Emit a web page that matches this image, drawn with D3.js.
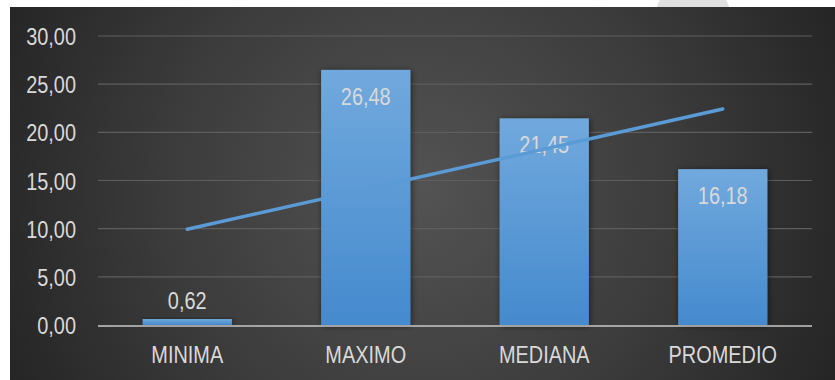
<!DOCTYPE html>
<html>
<head>
<meta charset="utf-8">
<script src="https://cdn.jsdelivr.net/npm/d3@7"></script>
<style>
  html, body { margin: 0; padding: 0; background: #ffffff; }
  svg { display: block; }
  text { font-family: "Liberation Sans Narrow", "Arial Narrow", "Liberation Sans", Arial, sans-serif; }
</style>
</head>
<body>
<svg id="chart" width="835" height="380"></svg>
<script>
// ---- data ----
const categories = ["MINIMA", "MAXIMO", "MEDIANA", "PROMEDIO"];
const values = [0.62, 26.48, 21.45, 16.18];
const yTicks = [0, 5, 10, 15, 20, 25, 30];
// linear trendline end points
const trendCategories = ["MINIMA", "PROMEDIO"];
const trendValues = [9.94, 22.43];

// ---- setup ----
const svg = d3.select("#chart");
const W = 835, H = 380;
const NARROW = 0.83;
const locale = d3.formatLocale({ decimal: ",", thousands: ".", grouping: [3], currency: ["", ""] });
const fmt = locale.format(".2f");

const defs = svg.append("defs");
const bg = defs.append("radialGradient").attr("id", "bg")
  .attr("gradientUnits", "userSpaceOnUse")
  .attr("cx", 420).attr("cy", 190).attr("r", 470);
bg.append("stop").attr("offset", "0").attr("stop-color", "#535353");
bg.append("stop").attr("offset", "0.55").attr("stop-color", "#3b3b3b");
bg.append("stop").attr("offset", "1").attr("stop-color", "#232323");

const barGrad = defs.append("linearGradient").attr("id", "barGrad")
  .attr("x1", 0).attr("y1", 0).attr("x2", 0).attr("y2", 1);
barGrad.append("stop").attr("offset", "0").attr("stop-color", "#71a9dd");
barGrad.append("stop").attr("offset", "1").attr("stop-color", "#458ace");

const shadow = defs.append("filter").attr("id", "shadow")
  .attr("x", "-20%").attr("y", "-20%").attr("width", "140%").attr("height", "140%");
shadow.append("feDropShadow").attr("dx", 1).attr("dy", 1).attr("stdDeviation", 3)
  .attr("flood-color", "#000").attr("flood-opacity", 0.55);

// decorative grey circle behind the chart panel
svg.append("circle").attr("cx", 693).attr("cy", 18.5).attr("r", 38).attr("fill", "#e0e0e0");

// chart panel
svg.append("rect").attr("x", 10).attr("y", 7).attr("width", W - 10).attr("height", H - 7)
  .attr("fill", "url(#bg)");

// ---- scales ----
const x = d3.scaleBand().domain(categories).range([98, 812]).paddingInner(0.5).paddingOuter(0.25);
const y = d3.scaleLinear().domain([0, 30]).range([325, 36]);

// gridlines
svg.append("g").selectAll("line").data(yTicks.filter(d => d > 0)).join("line")
  .attr("x1", 98).attr("x2", 812)
  .attr("y1", d => y(d)).attr("y2", d => y(d))
  .attr("stroke", "#5e5e5e").attr("stroke-width", 1.2);

// y axis labels
const yAxis = d3.axisLeft(y).tickValues(yTicks).tickFormat(fmt).tickSize(0).tickPadding(0);
const gy = svg.append("g").attr("transform", "translate(76,0)").call(yAxis);
gy.select(".domain").remove();
gy.selectAll("text").attr("fill", "#d9d9d9").attr("font-size", 24)
  .attr("x", 0).attr("dy", "0.36em")
  .attr("transform", `scale(${NARROW},1)`)
  .style("font-family", "'Liberation Sans Narrow','Arial Narrow','Liberation Sans',sans-serif");

// bars
svg.append("g").selectAll("rect").data(values).join("rect")
  .attr("x", (d, i) => x(categories[i]))
  .attr("y", d => y(d))
  .attr("width", x.bandwidth())
  .attr("height", d => y(0) - y(d))
  .attr("fill", "url(#barGrad)")
  .attr("filter", "url(#shadow)");

// x axis line
svg.append("line").attr("x1", 98).attr("x2", 812).attr("y1", 326).attr("y2", 326)
  .attr("stroke", "#c8c8c8").attr("stroke-opacity", 0.75).attr("stroke-width", 2);

// x axis labels
const xAxis = d3.axisBottom(x).tickSize(0).tickPadding(0);
const gx = svg.append("g").attr("transform", "translate(0,363)").call(xAxis);
gx.select(".domain").remove();
gx.selectAll("text").attr("fill", "#d9d9d9").attr("font-size", 24).attr("y", 0).attr("dy", 0)
  .attr("transform", `scale(${NARROW},1)`)
  .style("font-family", "'Liberation Sans Narrow','Arial Narrow','Liberation Sans',sans-serif");

// value labels
svg.append("g").selectAll("text").data(values).join("text")
  .attr("transform", (d, i) => {
    const cx = x(categories[i]) + x.bandwidth() / 2;
    const cy = (y(0) - y(d) > 40 ? y(d) + 35 : y(d) - 10);
    return `translate(${cx},${cy}) scale(${NARROW},1)`;
  })
  .attr("text-anchor", "middle")
  .attr("fill", "#d9d9d9").attr("font-size", 24)
  .text(d => fmt(d));

// trendline
const line = d3.line()
  .x((d, i) => x(trendCategories[i]) + x.bandwidth() / 2)
  .y(d => y(d));
svg.append("path").datum(trendValues)
  .attr("d", line)
  .attr("fill", "none").attr("stroke", "#5b9bd5").attr("stroke-width", 3.5)
  .attr("stroke-linecap", "round");
</script>
</body>
</html>
